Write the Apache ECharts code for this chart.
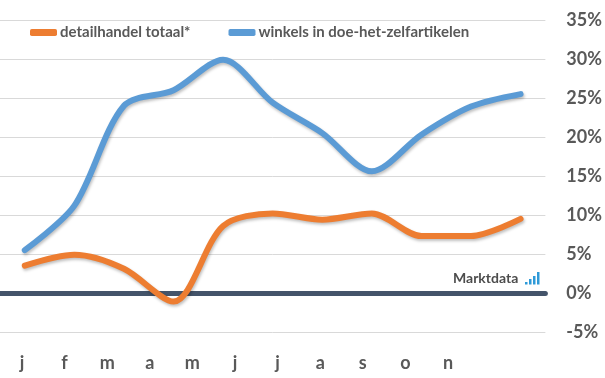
<!DOCTYPE html>
<html>
<head>
<meta charset="utf-8">
<script src="https://cdn.jsdelivr.net/npm/echarts@6/dist/echarts.min.js"></script>
<style>
  html, body { margin: 0; padding: 0; background: #fff; }
  #chart { width: 605px; height: 378px; }
</style>
</head>
<body>
<div id="chart"></div>
<script>
var months = ['j', 'f', 'm', 'a', 'm', 'j', 'j', 'a', 's', 'o', 'n'];
var detailhandel = [3.5, 4.9, 3.1, -1.1, 8.6, 10.2, 9.4, 10.2, 7.3, 7.3, 9.5];
var doeHetZelf = [5.5, 11.2, 24.0, 26.0, 29.9, 24.4, 20.5, 15.6, 20.3, 23.9, 25.5];
var yTicks = { min: -5, max: 35, interval: 5 };

var textColor = '#595959';
var font = 'Lato, "Open Sans", sans-serif';

var chart = echarts.init(document.getElementById('chart'));

var lineShadow = {
  shadowColor: 'rgba(0,0,0,0.25)',
  shadowBlur: 3,
  shadowOffsetX: 1,
  shadowOffsetY: 2
};

chart.setOption({
  animation: false,
  backgroundColor: '#fff',
  textStyle: { fontFamily: font },
  legend: {
    left: 30,
    top: 25,
    padding: 0,
    itemWidth: 27,
    itemHeight: 7,
    itemGap: 38,
    icon: 'roundRect',
    textStyle: { color: textColor, fontSize: 15, fontWeight: 'bold', fontFamily: font, padding: [0, 0, 0, -2] },
    data: ['detailhandel totaal*', 'winkels in doe-het-zelfartikelen']
  },
  grid: [
    { left: 0, right: 59, top: 20, bottom: 46 },
    { left: 22, right: 157, top: 343, height: 1 }
  ],
  xAxis: [
    {
      type: 'category',
      gridIndex: 0,
      data: months,
      boundaryGap: true,
      axisLine: { show: true, onZero: true, lineStyle: { color: '#44546A', width: 5 } },
      axisTick: { show: false },
      axisLabel: { show: false }
    },
    {
      type: 'category',
      gridIndex: 1,
      data: months,
      boundaryGap: false,
      axisLine: { show: false },
      axisTick: { show: false },
      axisLabel: { color: textColor, fontSize: 18, fontWeight: 'bold', fontFamily: font, margin: 10 }
    }
  ],
  yAxis: [
    {
      type: 'value',
      gridIndex: 0,
      position: 'right',
      min: yTicks.min,
      max: yTicks.max,
      interval: yTicks.interval,
      axisLine: { show: false },
      axisTick: { show: false },
      splitLine: { lineStyle: { color: '#D9D9D9', width: 1 } },
      axisLabel: {
        color: textColor,
        fontSize: 18,
        fontWeight: 'bold',
        fontFamily: font,
        align: 'left',
        margin: 21,
        formatter: '{value}%'
      }
    },
    {
      type: 'value',
      gridIndex: 1,
      show: false
    }
  ],
  graphic: [
    {
      type: 'text',
      left: 453,
      top: 271,
      style: { text: 'Marktdata', fill: '#4D4D4D', font: 'bold 14px Lato, "Open Sans", sans-serif' }
    },
    { type: 'rect', shape: { x: 525, y: 282, width: 2.5, height: 2.5 }, style: { fill: '#2E9AD8' } },
    { type: 'rect', shape: { x: 529, y: 279, width: 2.5, height: 5.5 }, style: { fill: '#2E9AD8' } },
    { type: 'rect', shape: { x: 533, y: 276, width: 2.5, height: 8.5 }, style: { fill: '#2E9AD8' } },
    { type: 'rect', shape: { x: 537, y: 272, width: 2.5, height: 12.5 }, style: { fill: '#2E9AD8' } }
  ],
  series: [
    {
      name: 'detailhandel totaal*',
      type: 'line',
      xAxisIndex: 0,
      yAxisIndex: 0,
      data: detailhandel,
      smooth: 0.3,
      symbol: 'none',
      color: '#ED7D31',
      lineStyle: Object.assign({ color: '#ED7D31', width: 6, cap: 'round' }, lineShadow),
      z: 3
    },
    {
      name: 'winkels in doe-het-zelfartikelen',
      type: 'line',
      xAxisIndex: 0,
      yAxisIndex: 0,
      data: doeHetZelf,
      smooth: 0.3,
      symbol: 'none',
      color: '#5B9BD5',
      lineStyle: Object.assign({ color: '#5B9BD5', width: 6, cap: 'round' }, lineShadow),
      z: 3
    }
  ]
});
</script>
</body>
</html>
